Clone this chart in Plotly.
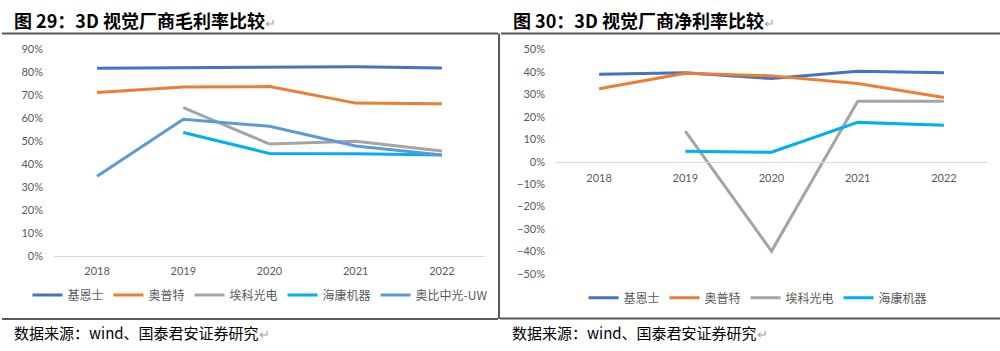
import plotly.graph_objects as go

# ---------------- data ----------------
years = ["2018", "2019", "2020", "2021", "2022"]

# Gross margin (%)
gm_keyence = [81.8, 81.9, 82.1, 82.4, 81.9]
gm_opt = [71.2, 73.6, 73.8, 66.6, 66.3]
gm_aike = [None, 64.6, 48.8, 50.0, 45.8]
gm_hikrobot = [None, 53.8, 44.7, 44.6, 44.0]
gm_orbbec = [34.8, 59.6, 56.5, 47.9, 44.0]

# Net margin (%)
nm_keyence = [38.9, 39.6, 37.0, 40.3, 39.6]
nm_opt = [32.5, 39.4, 38.2, 34.8, 28.6]
nm_aike = [None, 13.6, -39.8, 26.9, 26.9]
nm_hikrobot = [None, 4.7, 4.2, 17.5, 16.2]

names = ["基恩士", "奥普特", "埃科光电", "海康机器", "奥比中光-UW"]
colors = ["#4472C4", "#ED7D31", "#A5A5A5", "#00B0F0", "#5B9BD5"]

title_left = "图 29：3D 视觉厂商毛利率比较"
title_right = "图 30：3D 视觉厂商净利率比较"
source_text = "数据来源：wind、国泰君安证券研究"

W, H = 1000, 351

def px(x):
    return x / W

def py(y):
    return 1 - y / H

CJK = "Noto Sans CJK SC"
TICKFONT = dict(family="Lato, Open Sans, sans-serif", size=11, color="#595959")

fig = go.Figure()

left_series = [gm_keyence, gm_opt, gm_aike, gm_hikrobot, gm_orbbec]
for name, col, vals in zip(names, colors, left_series):
    fig.add_trace(go.Scatter(
        x=years, y=vals, name=name, mode="lines",
        line=dict(color=col, width=3), xaxis="x", yaxis="y",
        legend="legend", connectgaps=False,
    ))

right_series = [nm_keyence, nm_opt, nm_aike, nm_hikrobot]
for name, col, vals in zip(names[:4], colors[:4], right_series):
    fig.add_trace(go.Scatter(
        x=years, y=vals, name=name, mode="lines",
        line=dict(color=col, width=3), xaxis="x2", yaxis="y2",
        legend="legend2", connectgaps=False,
    ))

fig.update_layout(
    width=W, height=H,
    margin=dict(l=0, r=0, t=0, b=0),
    paper_bgcolor="white", plot_bgcolor="white",
    showlegend=True,
    xaxis=dict(
        domain=[px(54), px(485)], anchor="y", type="category",
        range=[-0.5, 4.5], showgrid=False, zeroline=False,
        showline=True, linecolor="#D9D9D9", linewidth=1,
        ticks="", tickfont=TICKFONT, ticklabelstandoff=5,
    ),
    yaxis=dict(
        domain=[py(258.7), py(44)], anchor="x",
        range=[0, 90], dtick=10, ticksuffix="%",
        showgrid=False, zeroline=False, showline=False,
        ticks="", tickfont=TICKFONT, ticklabelstandoff=10,
    ),
    xaxis2=dict(
        domain=[px(556), px(987)], anchor="free", position=py(160.6),
        type="category", range=[-0.5, 4.5], showgrid=False, zeroline=False,
        showline=True, linecolor="#D9D9D9", linewidth=1,
        ticks="", tickfont=TICKFONT, ticklabelstandoff=6,
    ),
    yaxis2=dict(
        domain=[py(277.3), py(44)], anchor="x2",
        range=[-50, 50], dtick=10, ticksuffix="%",
        showgrid=False, zeroline=False, showline=False,
        ticks="", tickfont=TICKFONT, ticklabelstandoff=10,
    ),
    legend=dict(
        orientation="h", x=px(260), xanchor="center", y=py(299), yanchor="middle",
        font=dict(family=CJK, size=12, color="#595959"),
        bgcolor="rgba(0,0,0,0)", itemwidth=30, tracegroupgap=0,
    ),
    legend2=dict(
        orientation="h", x=px(758), xanchor="center", y=py(302), yanchor="middle",
        font=dict(family=CJK, size=12, color="#595959"),
        bgcolor="rgba(0,0,0,0)", itemwidth=30, tracegroupgap=0,
    ),
)

mark = "<span style='color:#A6A6A6;font-weight:normal;font-size:13px'>↵</span>"

annotations = [
    dict(text="<b>" + title_left + "</b>" + mark, x=px(12), y=py(13.5), size=18),
    dict(text="<b>" + title_right + "</b>" + mark, x=px(511), y=py(13.5), size=18),
    dict(text=source_text + mark, x=px(12), y=py(338), size=15),
    dict(text=source_text + mark, x=px(510), y=py(338), size=15),
]
for a in annotations:
    fig.add_annotation(
        text=a["text"], x=a["x"], y=a["y"], xref="paper", yref="paper",
        xanchor="left", yanchor="middle", showarrow=False,
        font=dict(family=CJK, size=a["size"], color="#000000"),
    )

# frame lines (layout decorations)
line_style = dict(color="#595959", width=2)
frame = [
    (2, 27.5, 498, 27.5),
    (501, 27.5, 1000, 27.5),
    (499, 27.5, 499, 324),
    (2, 324, 498, 324),
    (500, 323.5, 1000, 323.5),
]
for x0, y0, x1, y1 in frame:
    fig.add_shape(type="line", xref="paper", yref="paper",
                  x0=px(x0), y0=py(y0), x1=px(x1), y1=py(y1), line=line_style)

fig.write_html("out.html")
